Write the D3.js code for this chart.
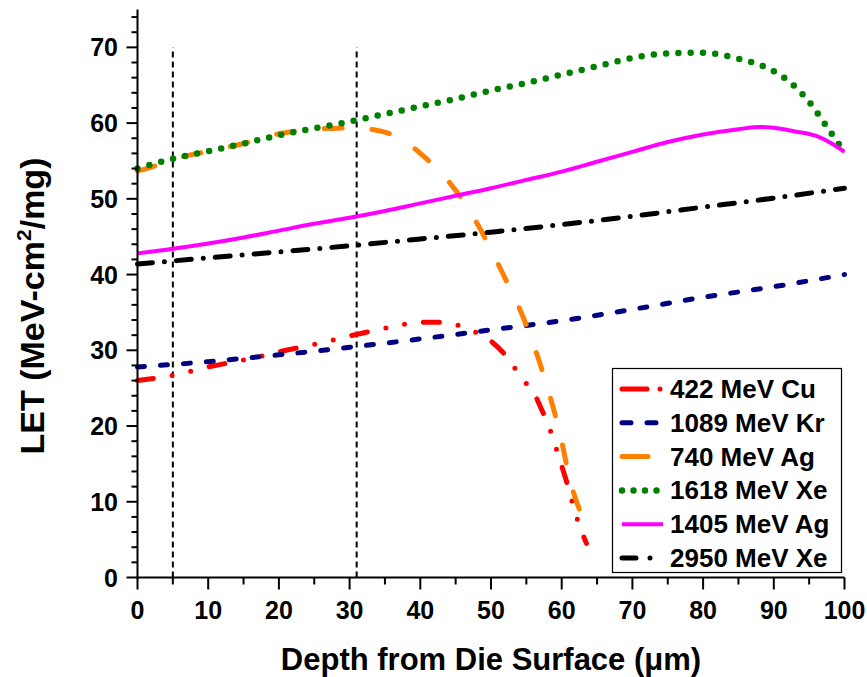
<!DOCTYPE html>
<html><head><meta charset="utf-8">
<script src="https://cdn.jsdelivr.net/npm/d3@7"></script>
<style>
html,body{margin:0;padding:0;background:#fff;}
text{font-family:"Liberation Sans",Arial,sans-serif;font-weight:bold;fill:#000;}
</style></head>
<body>
<svg id="chart" width="867" height="677"></svg>
<script>
// ---- data ----
const cuX   = [0,5,10,16,21,26,31,36,40,43,46,48,50,52,54.6,56,57.1,58.4,59.6,61,61.9,63.5];
const cuY   = [26.0,26.7,27.8,28.9,30.0,31.0,32.1,33.1,33.7,33.7,33.1,32.3,31.2,29.4,26.0,24.5,22.3,19.4,15.9,11.7,8.6,4.5];
const krX   = [0,10,20,30,40,50,60,70,80,90,100];
const krY   = [27.8,28.5,29.4,30.4,31.5,32.7,33.9,35.4,37.0,38.4,40.0];
const ag740X = [0,2,5,10,15,20,25,30,31,33,35,38,40,42,44,46,48,50,52,54,56,58,60,61,62.5];
const ag740Y = [53.7,54.2,55.2,56.3,57.3,58.6,59.2,59.4,59.5,59.2,58.8,57.5,56.0,54.3,52.3,49.8,46.8,43.3,39.5,35.6,30.8,25.0,18.0,13.5,9.0];
const xe1618X = [0,5,10,15,20,25,30,35,40,45,50,55,60,65,70,75,80,85,88,91,93,95,97,99,100];
const xe1618Y = [54.0,55.3,56.3,57.3,58.4,59.3,60.2,61.2,62.2,63.2,64.3,65.3,66.4,67.5,68.6,69.2,69.3,68.5,67.7,66.3,64.8,62.8,60.2,57.5,56.2];
const ag1405X = [0,5,10,15,20,25,30,35,40,45,50,55,60,65,70,75,80,85,88,90,93,96,98,100];
const ag1405Y = [42.8,43.4,44.1,44.9,45.8,46.7,47.5,48.4,49.4,50.4,51.4,52.5,53.6,54.9,56.2,57.5,58.5,59.2,59.5,59.4,58.9,58.3,57.4,56.2];
const xe2950X = [0,10,20,30,40,50,60,70,80,90,100];
const xe2950Y = [41.4,42.2,43.0,43.8,44.7,45.6,46.6,47.7,48.9,50.1,51.4];
const seriesNames = ["422 MeV Cu","1089 MeV Kr","740 MeV Ag","1618 MeV Xe","1405 MeV Ag","2950 MeV Xe"];
const markerDepths = [5,31];
const xTicks = [0,10,20,30,40,50,60,70,80,90,100];
const yTicks = [0,10,20,30,40,50,60,70];

// ---- layout ----
const svg = d3.select("#chart");
const x = d3.scaleLinear().domain([0,100]).range([137.5,844.5]);
const y = d3.scaleLinear().domain([0,75]).range([577.5,9.5]);

const styles = [
  {color:"#ff0000", w:5, dash:"16 19 0 19 0 19", cap:"round"},
  {color:"#000080", w:5, dash:"7 16", cap:"round"},
  {color:"#ff8000", w:5, dash:"18 30", cap:"round"},
  {color:"#008000", w:6.5, dash:"0 12.3", cap:"round"},
  {color:"#ff00ff", w:4, dash:null, cap:"butt"},
  {color:"#000000", w:5, dash:"15 12 0 12", cap:"round"}
];
const legendDash = ["25 13 0 20","9 16","28 40","0 11.5",null,"14 14 0 20"];

const data = [
  d3.zip(cuX,cuY), d3.zip(krX,krY), d3.zip(ag740X,ag740Y),
  d3.zip(xe1618X,xe1618Y), d3.zip(ag1405X,ag1405Y), d3.zip(xe2950X,xe2950Y)
];

// vertical dashed markers
svg.selectAll("line.marker").data(markerDepths).join("line")
  .attr("x1",d=>x(d)).attr("x2",d=>x(d))
  .attr("y1",y(0)).attr("y2",y(70))
  .attr("stroke","#000").attr("stroke-width",2).attr("stroke-dasharray","6 4");

// series
const line = d3.line().x(d=>x(d[0])).y(d=>y(d[1])).curve(d3.curveMonotoneX);
data.forEach((dd,i)=>{
  const s = styles[i];
  svg.append("path").attr("d",line(dd)).attr("fill","none")
    .attr("stroke",s.color).attr("stroke-width",s.w)
    .attr("stroke-linecap",s.cap).attr("stroke-linejoin","round")
    .attr("stroke-dasharray",s.dash);
});

// axes
const gx = svg.append("g");
gx.append("line").attr("x1",x(0)).attr("x2",x(100)).attr("y1",y(0)).attr("y2",y(0)).attr("stroke","#000").attr("stroke-width",2);
d3.range(0,101,5).forEach(v=>{
  const major = v%10===0;
  gx.append("line").attr("x1",x(v)).attr("x2",x(v)).attr("y1",y(0)).attr("y2",y(0)+(major?12:7))
    .attr("stroke","#000").attr("stroke-width",2);
});
gx.selectAll("text").data(xTicks).join("text")
  .attr("x",d=>x(d)).attr("y",619).attr("text-anchor","middle").attr("font-size",25).text(d=>d);

const gy = svg.append("g");
gy.append("line").attr("x1",x(0)).attr("x2",x(0)).attr("y1",y(0)+1).attr("y2",y(75)).attr("stroke","#000").attr("stroke-width",2);
d3.range(0,75,2).forEach(v=>{
  const major = v%10===0;
  gy.append("line").attr("x1",x(0)).attr("x2",x(0)-(major?11:6)).attr("y1",y(v)).attr("y2",y(v))
    .attr("stroke","#000").attr("stroke-width",2);
});
gy.selectAll("text").data(yTicks).join("text")
  .attr("x",118).attr("y",d=>y(d)+9).attr("text-anchor","end").attr("font-size",25).text(d=>d);

// axis titles
svg.append("text").attr("x",491).attr("y",670).attr("text-anchor","middle").attr("font-size",31)
  .text("Depth from Die Surface (\u03bcm)");
const yt = svg.append("text").attr("transform","translate(44,306) rotate(-90)").attr("text-anchor","middle").attr("font-size",34);
yt.append("tspan").text("LET (MeV-cm");
yt.append("tspan").attr("dy",-13).attr("font-size",21).text("2");
yt.append("tspan").attr("dy",13).text("/mg)");

// legend
const lg = svg.append("g");
lg.append("rect").attr("x",612.5).attr("y",368.5).attr("width",229).attr("height",204)
  .attr("fill","#fff").attr("stroke","#000").attr("stroke-width",1.2);
seriesNames.forEach((name,i)=>{
  const cy = 389 + i*33.8;
  const s = styles[i];
  lg.append("line").attr("x1",622).attr("x2",i===2?648:663).attr("y1",cy).attr("y2",cy)
    .attr("stroke",s.color).attr("stroke-width",s.w)
    .attr("stroke-linecap",s.cap).attr("stroke-dasharray",legendDash[i]);
  lg.append("text").attr("x",670).attr("y",cy+9).attr("font-size",26).text(name);
});
</script>
</body></html>
